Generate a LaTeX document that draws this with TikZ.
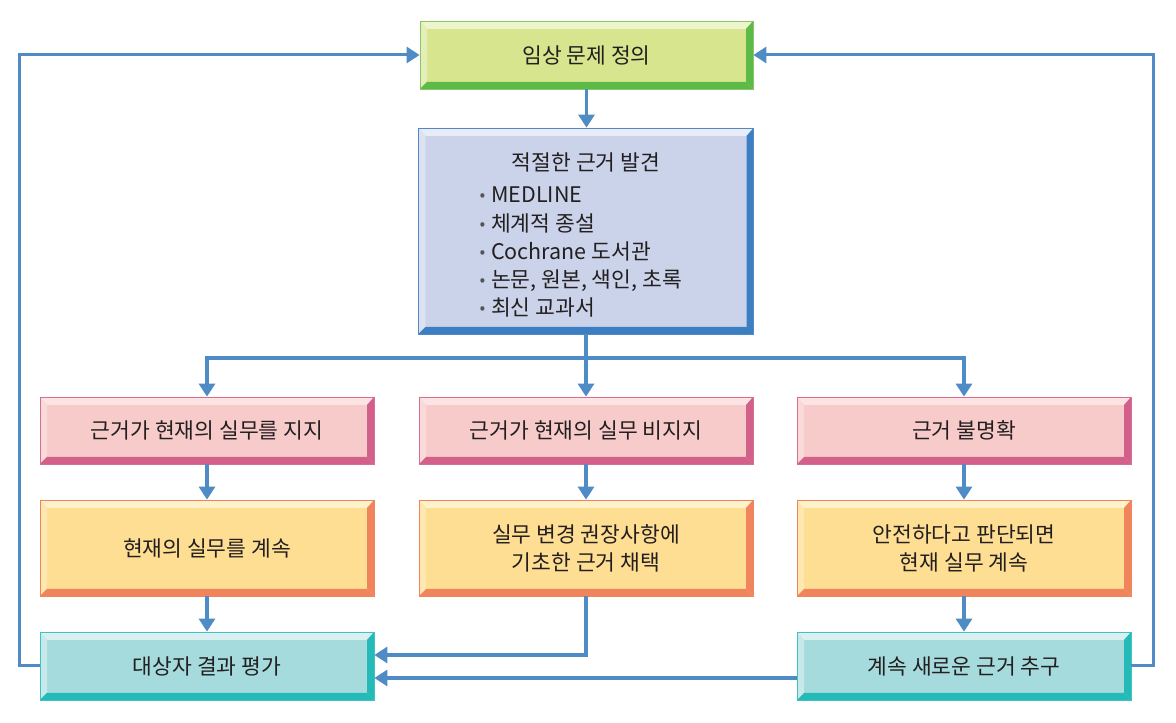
\documentclass[tikz,border=0pt]{standalone}
\usepackage{fontspec}
\setmainfont{Noto Sans CJK KR}
\newfontfamily\bulfont{Noto Sans}
\usetikzlibrary{arrows.meta}
\definecolor{txt}{HTML}{231F20}
\definecolor{arrc}{HTML}{4F8BC5}
\definecolor{bulc}{HTML}{555555}
\definecolor{gface}{HTML}{D6E58E}\definecolor{glight}{HTML}{EEF4CC}\definecolor{gleft}{HTML}{E4EEB6}\definecolor{gdark}{HTML}{5CBB46}\definecolor{gborder}{HTML}{8CC46A}
\definecolor{bface}{HTML}{CAD3EA}\definecolor{blight}{HTML}{E8ECF7}\definecolor{bleft}{HTML}{DDE2F1}\definecolor{bdark}{HTML}{3C7EC2}\definecolor{bborder}{HTML}{5089C6}
\definecolor{pface}{HTML}{F8CBCB}\definecolor{plight}{HTML}{FCE4E4}\definecolor{pleft}{HTML}{FAD9D9}\definecolor{pdark}{HTML}{D2608A}\definecolor{pborder}{HTML}{D7708F}
\definecolor{oface}{HTML}{FEDE92}\definecolor{olight}{HTML}{FFF2CA}\definecolor{oleft}{HTML}{FFE8B0}\definecolor{odark}{HTML}{F0855D}\definecolor{oborder}{HTML}{F0855D}
\definecolor{tface}{HTML}{A6DBDE}\definecolor{tlight}{HTML}{DAF0F0}\definecolor{tleft}{HTML}{C7E9EA}\definecolor{tdark}{HTML}{24BAB8}\definecolor{tborder}{HTML}{3EC3C3}
\tikzset{
  bev/.style n args={5}{rectangle, fill=#1, draw=#5, line width=0.8pt, inner sep=0pt, text=txt,
    font=\fontsize{21.5}{28}\selectfont, align=center,
    path picture={
      \coordinate (pnw) at (path picture bounding box.north west);
      \coordinate (pne) at (path picture bounding box.north east);
      \coordinate (psw) at (path picture bounding box.south west);
      \coordinate (pse) at (path picture bounding box.south east);
      \fill[#2] (pnw) -- (pne) -- ([shift={(-7,-8)}]pne) -- ([shift={(7,-8)}]pnw) -- cycle;
      \fill[#3] (pnw) -- ([shift={(7,-8)}]pnw) -- ([shift={(7,7)}]psw) -- (psw) -- cycle;
      \fill[#4] (pne) -- (pse) -- ([shift={(-7,7)}]pse) -- ([shift={(-7,-8)}]pne) -- cycle;
      \fill[#4] (psw) -- (pse) -- ([shift={(-7,7)}]pse) -- ([shift={(7,7)}]psw) -- cycle;
    }},
  gbox/.style={bev={gface}{glight}{gleft}{gdark}{gborder}},
  bbox/.style={bev={bface}{blight}{bleft}{bdark}{bborder}},
  pbox/.style={bev={pface}{plight}{pleft}{pdark}{pborder}, minimum width=334pt, minimum height=67pt},
  obox/.style={bev={oface}{olight}{oleft}{odark}{oborder}, minimum width=334pt, minimum height=96pt},
  tbox/.style={bev={tface}{tlight}{tleft}{tdark}{tborder}, minimum width=334pt, minimum height=68pt},
  conn/.style={draw=arrc, line width=3.4pt},
  arr/.style={conn, -{Triangle[width=16pt,length=13pt]}},
  lbl/.style={text=txt, font=\fontsize{21.5}{28.3}\selectfont, inner sep=0pt}
}
\newcommand{\bitem}{\makebox[12pt][l]{\bulfont\fontsize{18}{18}\selectfont\textcolor{bulc}{•}}}
\begin{document}
\begin{tikzpicture}[x=1pt,y=1pt]
\useasboundingbox (0,0) rectangle (1176,723);
\fill[white] (0,0) rectangle (1176,723);

% boxes
\node[gbox, minimum width=333pt, minimum height=68pt] (b1) at (586.5,668) {임상 문제 정의};
\node[bbox, minimum width=335pt, minimum height=206pt] (b2) at (586,492) {};
\node[lbl] (b2t) at (586,561) {적절한 근거 발견};
\node[lbl, anchor=base west, align=left] (b2l) at (479,407) {\bitem MEDLINE\\\bitem 체계적 종설\\\bitem Cochrane 도서관\\\bitem 논문, 원본, 색인, 초록\\\bitem 최신 교과서};

\node[pbox] (p1) at (207,292.5) {근거가 현재의 실무를 지지};
\node[pbox] (p2) at (586,292.5) {근거가 현재의 실무 비지지};
\node[pbox] (p3) at (964,292.5) {근거 불명확};

\node[obox] (o1) at (207,175) {현재의 실무를 계속};
\node[obox] (o2) at (586,175) {실무 변경 권장사항에\\기초한 근거 채택};
\node[obox] (o3) at (964,175) {안전하다고 판단되면\\현재 실무 계속};

\node[tbox] (t1) at (207,57) {대상자 결과 평가};
\node[tbox] (t3) at (964,57) {계속 새로운 근거 추구};

% connectors
\draw[arr] (b1.south) -- (b1.south |- b2.north);
\coordinate (j) at (586,365);
\draw[conn] (b2.south) -- (j);
\draw[arr] (j) -| (p1.north);
\draw[arr] (j) -- (p2.north);
\draw[arr] (j) -| (p3.north);

\draw[arr] (p1.south) -- (o1.north);
\draw[arr] (o1.south) -- (t1.north);
\draw[arr] (p2.south) -- (o2.north);
\draw[arr] (p3.south) -- (o3.north);
\draw[arr] (o3.south) -- (t3.north);

\coordinate (k1) at (586,68);
\draw[arr] (o2.south) |- (t1.east |- k1);
\draw[arr] ([yshift=-12pt]t3.west) -- ([yshift=-12pt]t1.east);

\coordinate (lc) at (19,0);
\coordinate (rc) at (1153,0);
\draw[arr, line width=3pt] (t1.west) -| (lc |- b1.west) -- (b1.west);
\draw[arr, line width=3pt] (t3.east) -| (rc |- b1.east) -- (b1.east);
\end{tikzpicture}
\end{document}
